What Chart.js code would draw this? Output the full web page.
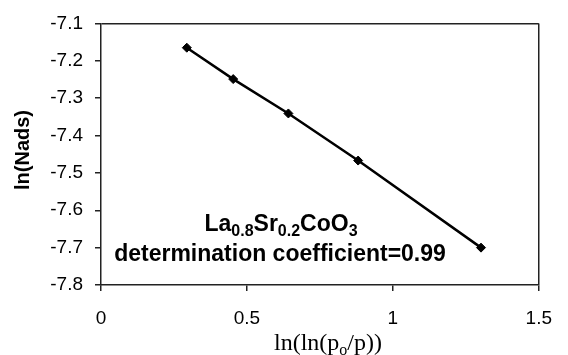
<!DOCTYPE html>
<html>
<head>
<meta charset="utf-8">
<title>ln(Nads) vs ln(ln(po/p))</title>
<script src="https://cdn.jsdelivr.net/npm/chart.js@4/dist/chart.umd.min.js"></script>
<style>
    html, body { margin: 0; padding: 0; background: #fff; }
    #adsChart { display: block; }
</style>
</head>
<body>
<canvas id="adsChart" width="568" height="355"></canvas>
<script>
/**
 * Adsorption fit - La0.8Sr0.2CoO3
 * ln(Nads) against ln(ln(po/p)), points joined by a straight line
 */

// Data
const xValues = [0.294, 0.453, 0.642, 0.881, 1.302];
const yValues = [-7.165, -7.249, -7.341, -7.467, -7.700];

// Axis ticks
const xTickLabels = ['0', '0.5', '1', '1.5'];
const yTickLabels = ['-7.8', '-7.7', '-7.6', '-7.5', '-7.4', '-7.3', '-7.2', '-7.1'];

const SANS = '"Liberation Sans", Arial, sans-serif';
const SERIF = '"Liberation Serif", "Times New Roman", serif';
const AXIS_COLOR = '#222';

/**
 * Draw a run of text pieces, some of them as subscripts,
 * centred on x with the given baseline
 */
function drawRichText(ctx, pieces, cx, baseline, size, family, weight, subScale) {
    const subSize = Math.round(size * subScale);
    const fontFor = p => `${weight} ${p.sub ? subSize : size}px ${family}`;

    let total = 0;
    pieces.forEach(p => {
        ctx.font = fontFor(p);
        total += ctx.measureText(p.t).width;
    });

    let x = cx - total / 2;
    pieces.forEach(p => {
        ctx.font = fontFor(p);
        ctx.fillText(p.t, x, baseline + (p.sub ? size * 0.22 : 0));
        x += ctx.measureText(p.t).width;
    });
}

// Titles and the in-plot note, drawn with subscripts
const textPlugin = {
    id: 'adsText',
    afterDraw(chart) {
        const ctx = chart.ctx;
        ctx.save();
        ctx.fillStyle = '#000';
        ctx.textBaseline = 'alphabetic';
        ctx.textAlign = 'left';

        drawRichText(ctx, [
            { t: 'La' }, { t: '0.8', sub: true },
            { t: 'Sr' }, { t: '0.2', sub: true },
            { t: 'CoO' }, { t: '3', sub: true }
        ], 281, 231, 23, SANS, 'bold', 0.7);

        drawRichText(ctx, [{ t: 'determination coefficient=0.99' }],
            280, 261, 23, SANS, 'bold', 0.7);

        // x axis title
        drawRichText(ctx, [
            { t: 'ln(ln(p' }, { t: 'o', sub: true }, { t: '/p))' }
        ], 328, 350, 24, SERIF, 'normal', 0.65);

        // y axis title
        ctx.translate(23, 150);
        ctx.rotate(-Math.PI / 2);
        ctx.font = `bold 20px ${SANS}`;
        ctx.textAlign = 'center';
        ctx.textBaseline = 'middle';
        ctx.fillText('ln(Nads)', 0, 0);
        ctx.restore();
    }
};

const canvas = document.getElementById('adsChart');
const chart = new Chart(canvas.getContext('2d'), {
    type: 'scatter',
    data: {
        datasets: [{
            label: 'ln(Nads)',
            data: xValues.map((x, i) => ({ x: x, y: yValues[i] })),
            showLine: true,
            borderColor: '#000',
            borderWidth: 2.5,
            backgroundColor: '#000',
            pointStyle: 'rectRot',
            pointRadius: 4.5,
            pointBorderWidth: 1
        }]
    },
    options: {
        responsive: false,
        animation: false,
        devicePixelRatio: 1,
        layout: {
            padding: { top: 15, right: 18, bottom: 0, left: 0 }
        },
        plugins: {
            legend: { display: false },
            tooltip: { enabled: false }
        },
        scales: {
            x: {
                type: 'linear',
                min: 0,
                max: 1.5,
                afterFit: scale => { scale.height = 70; },
                ticks: {
                    stepSize: 0.5,
                    padding: 16,
                    color: '#000',
                    font: { family: SANS, size: 19 },
                    callback: (value, index) => xTickLabels[index]
                },
                grid: {
                    // only the right frame line at 1.5 is drawn across the plot
                    color: ctx => ctx.index === xTickLabels.length - 1 ? AXIS_COLOR : 'transparent',
                    tickColor: AXIS_COLOR,
                    tickLength: 6,
                    lineWidth: 1.5
                },
                border: { color: AXIS_COLOR, width: 1.5 }
            },
            y: {
                type: 'linear',
                min: -7.8,
                max: -7.1,
                afterFit: scale => { scale.width = 101; },
                ticks: {
                    stepSize: 0.1,
                    padding: 12,
                    color: '#000',
                    font: { family: SANS, size: 19 },
                    callback: (value, index) => yTickLabels[index]
                },
                grid: {
                    // only the top frame line at -7.1 is drawn across the plot
                    color: ctx => ctx.index === yTickLabels.length - 1 ? AXIS_COLOR : 'transparent',
                    tickColor: AXIS_COLOR,
                    tickLength: 6,
                    lineWidth: 1.5
                },
                border: { color: AXIS_COLOR, width: 1.5 }
            }
        }
    },
    plugins: [textPlugin]
});
</script>
</body>
</html>
